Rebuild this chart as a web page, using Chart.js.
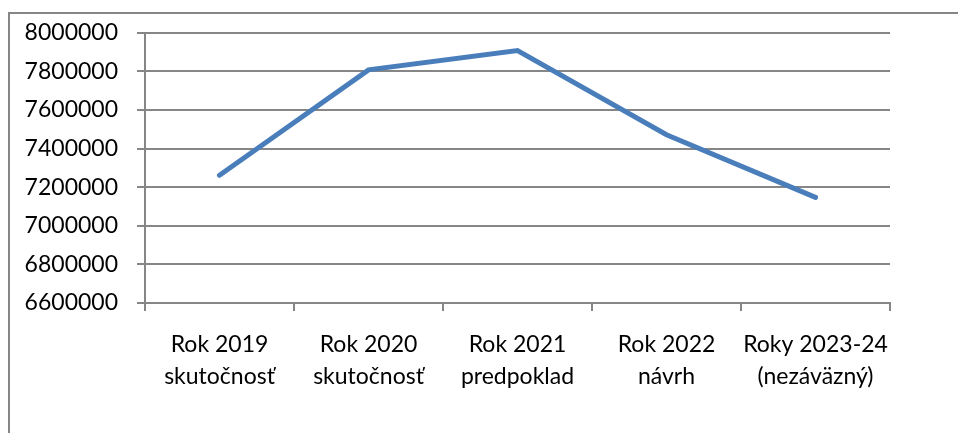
<!DOCTYPE html>
<html>
<head>
<meta charset="utf-8">
<script src="https://cdn.jsdelivr.net/npm/chart.js@4/dist/chart.umd.min.js"></script>
<style>
  html, body { margin: 0; padding: 0; background: #fff; }
  canvas { display: block; }
</style>
</head>
<body>
<canvas id="chart" width="958" height="433"></canvas>
<script>
var categories = [
    ['Rok 2019', 'skutočnosť'],
    ['Rok 2020', 'skutočnosť'],
    ['Rok 2021', 'predpoklad'],
    ['Rok 2022', 'návrh'],
    ['Roky 2023-24', '(nezáväzný)']
];
var values = [7262000, 7808000, 7908000, 7472000, 7147000];
var yMin = 6600000;
var yMax = 8000000;
var yStep = 200000;

var gridColor = '#868686';

// outer frame, only left and top edges are visible in the picture
var framePlugin = {
    id: 'frame',
    beforeDraw: function (chart) {
        var ctx = chart.ctx;
        ctx.save();
        ctx.strokeStyle = gridColor;
        ctx.lineWidth = 2;
        ctx.beginPath();
        ctx.moveTo(9, 433);
        ctx.lineTo(9, 13);
        ctx.lineTo(958, 13);
        ctx.stroke();
        ctx.restore();
    }
};

function buildChart() {
    var c = document.getElementById('chart');
    new Chart(c, {
        type: 'line',
        data: {
            labels: categories,
            datasets: [{
                data: values,
                borderColor: '#4a7ebb',
                borderWidth: 5,
                borderCapStyle: 'round',
                pointRadius: 0,
                tension: 0,
                fill: false
            }]
        },
        options: {
            responsive: false,
            animation: false,
            devicePixelRatio: 1,
            layout: {
                padding: { top: 32, right: 68, bottom: 0, left: 0 }
            },
            plugins: {
                legend: { display: false },
                tooltip: { enabled: false }
            },
            scales: {
                x: {
                    offset: true,
                    grid: {
                        offset: true,
                        drawOnChartArea: false,
                        color: gridColor,
                        lineWidth: 2,
                        tickLength: 8
                    },
                    border: { color: gridColor, width: 2 },
                    ticks: {
                        color: '#000',
                        padding: 17,
                        maxRotation: 0,
                        font: { family: 'Lato', size: 23, lineHeight: 1.4 }
                    },
                    afterFit: function (scale) { scale.height = 130; }
                },
                y: {
                    min: yMin,
                    max: yMax,
                    grid: {
                        color: gridColor,
                        lineWidth: 2,
                        tickLength: 8
                    },
                    border: { color: gridColor, width: 2 },
                    ticks: {
                        stepSize: yStep,
                        color: '#000',
                        padding: 19,
                        font: { family: 'Lato', size: 23 },
                        callback: function (v) { return String(v); }
                    },
                    afterFit: function (scale) { scale.width = 145; }
                }
            }
        },
        plugins: [framePlugin]
    });
}

buildChart();
</script>
</body>
</html>
